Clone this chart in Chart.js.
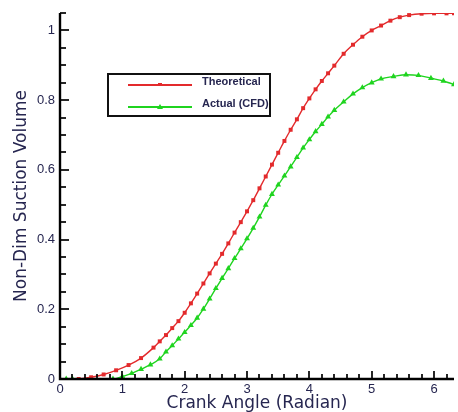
<!DOCTYPE html>
<html>
<head>
<meta charset="utf-8">
<title>Suction volume</title>
<script src="https://cdn.jsdelivr.net/npm/chart.js@4.4.1/dist/chart.umd.min.js"></script>
<style>
  body { margin: 0; background: #fff; }
  #wrap { width: 458px; height: 412px; }
</style>
</head>
<body>
<div id="wrap"><canvas id="suctionChart" width="458" height="412"></canvas></div>
<script>
'use strict';

// values (crank angle in radian, non-dim volume)
var seriesNames = ['Theoretical', 'Actual (CFD)'];

var angleTheory = [0.3, 0.5, 0.7, 0.9, 1.1, 1.3, 1.5, 1.6, 1.7, 1.8, 1.9, 2.0, 2.1, 2.2, 2.3, 2.4, 2.5, 2.6,
	2.7, 2.8, 2.9, 3.0, 3.1, 3.2, 3.3, 3.4, 3.5, 3.6, 3.7, 3.8, 3.9, 4.0, 4.1, 4.2, 4.3, 4.4, 4.55, 4.7,
	4.85, 5.0, 5.15, 5.3, 5.45, 5.6, 5.8, 6.0, 6.2, 6.32];
var volTheory = [0.000, 0.005, 0.013, 0.025, 0.040, 0.060, 0.090, 0.108, 0.126, 0.146, 0.166, 0.190, 0.217,
	0.245, 0.274, 0.303, 0.331, 0.359, 0.389, 0.420, 0.450, 0.481, 0.513, 0.547, 0.581, 0.615, 0.649, 0.683,
	0.715, 0.745, 0.777, 0.805, 0.831, 0.855, 0.877, 0.899, 0.933, 0.959, 0.982, 1.000, 1.014, 1.028, 1.038,
	1.044, 1.048, 1.049, 1.049, 1.049];

var angleCfd = [0.0, 0.1, 0.2, 0.85, 1.0, 1.15, 1.3, 1.45, 1.6, 1.7, 1.8, 1.9, 2.0, 2.1, 2.2, 2.3, 2.4, 2.5,
	2.6, 2.7, 2.8, 2.9, 3.0, 3.1, 3.2, 3.3, 3.4, 3.5, 3.6, 3.7, 3.8, 3.9, 4.0, 4.1, 4.2, 4.3, 4.4, 4.55,
	4.7, 4.85, 5.0, 5.15, 5.35, 5.55, 5.75, 5.95, 6.15, 6.32];
var volCfd = [0.000, 0.000, 0.000, 0.000, 0.007, 0.016, 0.028, 0.041, 0.058, 0.078, 0.096, 0.115, 0.134,
	0.154, 0.175, 0.201, 0.230, 0.260, 0.289, 0.317, 0.346, 0.374, 0.403, 0.433, 0.465, 0.499, 0.530, 0.557,
	0.583, 0.609, 0.636, 0.663, 0.687, 0.710, 0.731, 0.752, 0.771, 0.795, 0.818, 0.836, 0.850, 0.861, 0.868,
	0.873, 0.871, 0.863, 0.855, 0.845];

var xTickValues = [0, 1, 2, 3, 4, 5, 6];
var yTickValues = [0, 0.2, 0.4, 0.6, 0.8, 1];

var redColor = '#e32a2c';
var greenColor = '#1fd41f';
var textColor = '#262650';

function toPoints(xs, ys) {
	return xs.map(function (x, i) { return { x: x, y: ys[i] }; });
}

// axis lines + inward major/minor ticks, drawn over the curves
var axisFrame = {
	id: 'axisFrame',
	afterDatasetsDraw: function (chart) {
		var ctx = chart.ctx, area = chart.chartArea;
		var xs = chart.scales.x, ys = chart.scales.y;
		ctx.save();
		ctx.strokeStyle = '#000';
		ctx.lineWidth = 1.7;
		for (var i = 0; i * 0.2 <= xs.max + 1e-9; i++) {
			var px = Math.round(xs.getPixelForValue(i * 0.2));
			var len = (i % 5 === 0) ? 8 : 5;
			ctx.beginPath();
			ctx.moveTo(px, area.bottom);
			ctx.lineTo(px, area.bottom - len);
			ctx.stroke();
		}
		for (var j = 0; j * 0.05 <= ys.max + 1e-9; j++) {
			var py = Math.round(ys.getPixelForValue(j * 0.05));
			var len2 = (j % 4 === 0) ? 9 : 6;
			ctx.beginPath();
			ctx.moveTo(area.left, py);
			ctx.lineTo(area.left + len2, py);
			ctx.stroke();
		}
		ctx.lineWidth = 2.4;
		ctx.beginPath();
		ctx.moveTo(area.left, area.top);
		ctx.lineTo(area.left, area.bottom);
		ctx.lineTo(area.right, area.bottom);
		ctx.stroke();
		ctx.restore();
	}
};

// boxed legend sitting inside the plot like the original
var boxLegend = {
	id: 'boxLegend',
	afterDatasetsDraw: function (chart) {
		var ctx = chart.ctx;
		var box = { x: 108, y: 74, w: 162, h: 42 };
		ctx.save();
		ctx.fillStyle = '#fff';
		ctx.fillRect(box.x, box.y, box.w, box.h);
		ctx.strokeStyle = '#111';
		ctx.lineWidth = 2;
		ctx.strokeRect(box.x, box.y, box.w, box.h);

		chart.data.datasets.forEach(function (ds, k) {
			var y = box.y + 11 + k * 22;
			ctx.strokeStyle = ds.borderColor;
			ctx.lineWidth = 2;
			ctx.beginPath();
			ctx.moveTo(128, y);
			ctx.lineTo(192, y);
			ctx.stroke();
			ctx.fillStyle = ds.borderColor;
			if (ds.pointStyle === 'triangle') {
				ctx.beginPath();
				ctx.moveTo(160, y - 3);
				ctx.lineTo(163, y + 2);
				ctx.lineTo(157, y + 2);
				ctx.closePath();
				ctx.fill();
			} else {
				ctx.fillRect(158, y - 2, 4, 3);
			}
			ctx.fillStyle = textColor;
			ctx.font = 'bold 11px "Liberation Sans", Arial, sans-serif';
			ctx.textBaseline = 'middle';
			ctx.fillText(ds.label, 202, y - 3);
		});
		ctx.restore();
	}
};

var ctx = document.getElementById('suctionChart').getContext('2d');

var suctionChart = new Chart(ctx, {
	type: 'line',
	data: {
		datasets: [{
			label: seriesNames[0],
			data: toPoints(angleTheory, volTheory),
			borderColor: redColor,
			backgroundColor: redColor,
			borderWidth: 1.4,
			pointStyle: 'rect',
			pointRadius: 2.8,
			pointBorderWidth: 0,
			cubicInterpolationMode: 'monotone',
			fill: false
		}, {
			label: seriesNames[1],
			data: toPoints(angleCfd, volCfd),
			borderColor: greenColor,
			backgroundColor: greenColor,
			borderWidth: 1.4,
			pointStyle: 'triangle',
			pointRadius: 3.4,
			pointBorderWidth: 0,
			cubicInterpolationMode: 'monotone',
			fill: false
		}]
	},
	options: {
		responsive: false,
		animation: false,
		layout: { padding: { top: 13, right: 0, left: 0, bottom: 0 } },
		plugins: {
			legend: { display: false },
			tooltip: { enabled: false }
		},
		scales: {
			x: {
				type: 'linear',
				min: 0,
				max: 6.32,
				grid: { display: false, drawTicks: false },
				border: { display: false },
				afterBuildTicks: function (scale) {
					scale.ticks = xTickValues.map(function (v) { return { value: v }; });
				},
				afterFit: function (scale) { scale.height = 33; },
				ticks: {
					autoSkip: false,
					maxRotation: 0,
					padding: 3,
					color: textColor,
					font: { family: '"Liberation Sans", Arial, sans-serif', size: 13 },
					callback: function (v) { return String(v); }
				},
				title: {
					display: true,
					text: 'Crank Angle (Radian)',
					color: textColor,
					font: { family: '"DejaVu Sans", sans-serif', size: 17, lineHeight: 1 },
					padding: { top: 0, bottom: 0 }
				}
			},
			y: {
				min: 0,
				max: 1.05,
				grid: { display: false, drawTicks: false },
				border: { display: false },
				afterBuildTicks: function (scale) {
					scale.ticks = yTickValues.map(function (v) { return { value: v }; });
				},
				afterFit: function (scale) { scale.width = 60; },
				ticks: {
					autoSkip: false,
					padding: 5,
					color: textColor,
					font: { family: '"Liberation Sans", Arial, sans-serif', size: 13 },
					callback: function (v) { return String(v); }
				},
				title: {
					display: true,
					text: 'Non-Dim Suction Volume',
					color: textColor,
					font: { family: '"DejaVu Sans", sans-serif', size: 17, lineHeight: 1 },
					padding: { top: 13, bottom: 0 }
				}
			}
		}
	},
	plugins: [axisFrame, boxLegend]
});
</script>
</body>
</html>
